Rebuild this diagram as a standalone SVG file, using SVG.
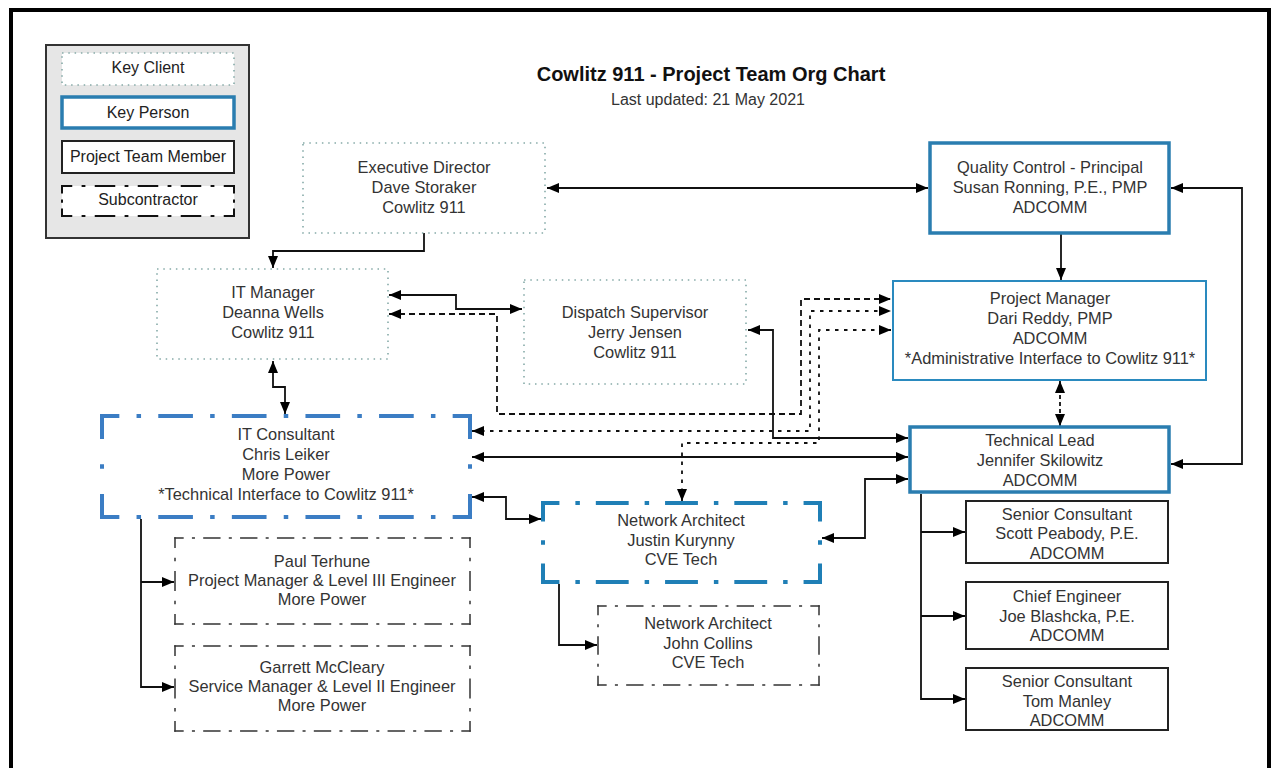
<svg xmlns="http://www.w3.org/2000/svg" width="1276" height="768" viewBox="0 0 1276 768">
<style>
.t{font-family:"Liberation Sans",Arial,sans-serif;font-size:16.4px;fill:#333;text-anchor:middle}
.lg{font-family:"Liberation Sans",Arial,sans-serif;font-size:16px;fill:#222;text-anchor:middle}
.client{fill:#fff;stroke:#86aaa8;stroke-width:1.6;stroke-dasharray:1.5 4.8}
.key{fill:#fff;stroke:#2a7db0;stroke-width:3.5}
.member{fill:#fff;stroke:#222;stroke-width:2}
.bdd{fill:none;stroke-width:4;stroke-linecap:square;stroke-dasharray:15 20.75 0.5 20.75 15 0}
.sub{fill:none;stroke:#333;stroke-width:1.5;stroke-linecap:square;stroke-dasharray:7.75 9.5 1.5 9.5 7.75 0}
.c{fill:none;stroke:#111;stroke-width:1.8}
.dash{stroke-dasharray:6 4}
.dotl{stroke-dasharray:3.5 5.5}
.sdash{stroke-dasharray:4 3}
</style>
<defs>
<marker id="ah" viewBox="0 0 12 10" refX="12" refY="5" markerWidth="12" markerHeight="10" markerUnits="userSpaceOnUse" orient="auto-start-reverse">
<path d="M0,0 L12,5 L0,10 z" fill="#000"/>
</marker>
</defs>
<rect x="0" y="0" width="1276" height="768" fill="#fff"/>
<rect x="11" y="10" width="1258" height="765" fill="none" stroke="#000" stroke-width="4"/>

<g id="legend">
<rect x="46" y="45" width="203" height="193" fill="#e6e6e6" stroke="#333" stroke-width="2"/>
<rect x="62" y="53" width="172" height="32" class="client"/>
<text class="lg" x="148" y="73">Key Client</text>
<rect x="62" y="97" width="172" height="31" class="key"/>
<text class="lg" x="148" y="118">Key Person</text>
<rect x="62" y="141" width="172" height="32" class="member"/>
<text class="lg" x="148" y="162">Project Team Member</text>
<rect x="62" y="186" width="172" height="30" fill="#fff"/>
<path class="sub" style="stroke:#111;stroke-width:2" d="M62,186 H234" pathLength="144"/>
<path class="sub" style="stroke:#111;stroke-width:2" d="M234,186 V216" pathLength="36"/>
<path class="sub" style="stroke:#111;stroke-width:2" d="M234,216 H62" pathLength="144"/>
<path class="sub" style="stroke:#111;stroke-width:2" d="M62,216 V186" pathLength="36"/>
<text class="lg" x="148" y="205">Subcontractor</text>
</g>

<g id="title">
<text x="711" y="81" style="font-family:'Liberation Sans',Arial,sans-serif;font-size:20px;font-weight:bold;fill:#111;text-anchor:middle">Cowlitz 911 - Project Team Org Chart</text>
<text x="708" y="105" style="font-family:'Liberation Sans',Arial,sans-serif;font-size:16px;fill:#333;text-anchor:middle">Last updated: 21 May 2021</text>
</g>

<g id="connectors">
<path class="c" d="M547,188 H928" marker-start="url(#ah)" marker-end="url(#ah)"/>
<path class="c" d="M424,233 V251 H273 V268" marker-end="url(#ah)"/>
<path class="c" d="M1061,233 V280" marker-end="url(#ah)"/>
<path class="c sdash" d="M1060,381 V426" marker-start="url(#ah)" marker-end="url(#ah)"/>
<path class="c" d="M1171,188 H1242 V464 H1171" marker-start="url(#ah)" marker-end="url(#ah)"/>
<path class="c" d="M389,295 H456 V309 H522" marker-start="url(#ah)" marker-end="url(#ah)"/>
<path class="c dash" d="M389,314 H497 V414 H801 V299 H891" marker-start="url(#ah)" marker-end="url(#ah)"/>
<path class="c dotl" d="M472,431 H810 V311 H891" marker-start="url(#ah)" marker-end="url(#ah)"/>
<path class="c dotl" d="M682,501 V443 H819 V330 H891" marker-start="url(#ah)" marker-end="url(#ah)"/>
<path class="c" d="M748,330 H773 V438 H908" marker-start="url(#ah)" marker-end="url(#ah)"/>
<path class="c" d="M472,457 H908" marker-start="url(#ah)" marker-end="url(#ah)"/>
<path class="c" d="M822,538 H865 V479 H908" marker-start="url(#ah)" marker-end="url(#ah)"/>
<path class="c" d="M273,361 V387 H285 V414" marker-start="url(#ah)" marker-end="url(#ah)"/>
<path class="c" d="M472,497 H506 V519 H541" marker-start="url(#ah)" marker-end="url(#ah)"/>
<path class="c" d="M141,519 V687 H174" marker-end="url(#ah)"/>
<path class="c" d="M141,582 H174" marker-end="url(#ah)"/>
<path class="c" d="M559,584 V645 H597" marker-end="url(#ah)"/>
<path class="c" d="M921,494 V699 H965" marker-end="url(#ah)"/>
<path class="c" d="M921,532 H965" marker-end="url(#ah)"/>
<path class="c" d="M921,616 H965" marker-end="url(#ah)"/>
</g>

<g id="exec">
<rect x="303" y="143" width="242" height="90" class="client"/>
<text class="t" x="424" y="173">Executive Director</text>
<text class="t" x="424" y="193">Dave Storaker</text>
<text class="t" x="424" y="213">Cowlitz 911</text>
</g>

<g id="qc">
<rect x="930" y="143" width="239" height="90" class="key"/>
<text class="t" x="1050" y="173">Quality Control - Principal</text>
<text class="t" x="1050" y="193">Susan Ronning, P.E., PMP</text>
<text class="t" x="1050" y="213">ADCOMM</text>
</g>

<g id="pm">
<rect x="893" y="281" width="313" height="99" fill="#fff" stroke="#2a8abf" stroke-width="2"/>
<text class="t" x="1050" y="304">Project Manager</text>
<text class="t" x="1050" y="324">Dari Reddy, PMP</text>
<text class="t" x="1050" y="344">ADCOMM</text>
<text class="t" x="1050" y="364">*Administrative Interface to Cowlitz 911*</text>
</g>

<g id="tl">
<rect x="910" y="427" width="259" height="65" class="key"/>
<text class="t" x="1040" y="446">Technical Lead</text>
<text class="t" x="1040" y="466">Jennifer Skilowitz</text>
<text class="t" x="1040" y="486">ADCOMM</text>
</g>

<g id="itm">
<rect x="157" y="269" width="231" height="90" class="client"/>
<text class="t" x="273" y="298">IT Manager</text>
<text class="t" x="273" y="318">Deanna Wells</text>
<text class="t" x="273" y="338">Cowlitz 911</text>
</g>

<g id="dispatch">
<rect x="524" y="280" width="222" height="104" class="client"/>
<text class="t" x="635" y="318">Dispatch Supervisor</text>
<text class="t" x="635" y="338">Jerry Jensen</text>
<text class="t" x="635" y="358">Cowlitz 911</text>
</g>

<g id="itc">
<path class="bdd" style="stroke:#3b7dc4" d="M102,416 H470" pathLength="360"/>
<path class="bdd" style="stroke:#3b7dc4" d="M470,416 V517" pathLength="72"/>
<path class="bdd" style="stroke:#3b7dc4" d="M470,517 H102" pathLength="360"/>
<path class="bdd" style="stroke:#3b7dc4" d="M102,517 V416" pathLength="72"/>
<text class="t" x="286" y="440">IT Consultant</text>
<text class="t" x="286" y="460">Chris Leiker</text>
<text class="t" x="286" y="480">More Power</text>
<text class="t" x="286" y="500">*Technical Interface to Cowlitz 911*</text>
</g>

<g id="paul">
<path class="sub" d="M175,538 H470" pathLength="288"/>
<path class="sub" d="M470,538 V624" pathLength="72"/>
<path class="sub" d="M470,624 H175" pathLength="288"/>
<path class="sub" d="M175,624 V538" pathLength="72"/>
<text class="t" x="322" y="567">Paul Terhune</text>
<text class="t" x="322" y="586">Project Manager &amp; Level III Engineer</text>
<text class="t" x="322" y="605">More Power</text>
</g>

<g id="garrett">
<path class="sub" d="M175,646 H470" pathLength="288"/>
<path class="sub" d="M470,646 V731" pathLength="72"/>
<path class="sub" d="M470,731 H175" pathLength="288"/>
<path class="sub" d="M175,731 V646" pathLength="72"/>
<text class="t" x="322" y="673">Garrett McCleary</text>
<text class="t" x="322" y="692">Service Manager &amp; Level II Engineer</text>
<text class="t" x="322" y="711">More Power</text>
</g>

<g id="na-justin">
<path class="bdd" style="stroke:#1f7fb6" d="M543,503 H820" pathLength="288"/>
<path class="bdd" style="stroke:#1f7fb6" d="M820,503 V582" pathLength="72"/>
<path class="bdd" style="stroke:#1f7fb6" d="M820,582 H543" pathLength="288"/>
<path class="bdd" style="stroke:#1f7fb6" d="M543,582 V503" pathLength="72"/>
<text class="t" x="681" y="526">Network Architect</text>
<text class="t" x="681" y="546">Justin Kurynny</text>
<text class="t" x="681" y="565">CVE Tech</text>
</g>

<g id="na-john">
<path class="sub" d="M598,606 H819" pathLength="216"/>
<path class="sub" d="M819,606 V685" pathLength="72"/>
<path class="sub" d="M819,685 H598" pathLength="216"/>
<path class="sub" d="M598,685 V606" pathLength="72"/>
<text class="t" x="708" y="629">Network Architect</text>
<text class="t" x="708" y="649">John Collins</text>
<text class="t" x="708" y="668">CVE Tech</text>
</g>

<g id="scott">
<rect x="966" y="501" width="202" height="62" class="member"/>
<text class="t" x="1067" y="520">Senior Consultant</text>
<text class="t" x="1067" y="539">Scott Peabody, P.E.</text>
<text class="t" x="1067" y="559">ADCOMM</text>
</g>

<g id="chief">
<rect x="966" y="582" width="202" height="67" class="member"/>
<text class="t" x="1067" y="602">Chief Engineer</text>
<text class="t" x="1067" y="622">Joe Blashcka, P.E.</text>
<text class="t" x="1067" y="641">ADCOMM</text>
</g>

<g id="tom">
<rect x="966" y="668" width="202" height="62" class="member"/>
<text class="t" x="1067" y="687">Senior Consultant</text>
<text class="t" x="1067" y="707">Tom Manley</text>
<text class="t" x="1067" y="726">ADCOMM</text>
</g>
</svg>
